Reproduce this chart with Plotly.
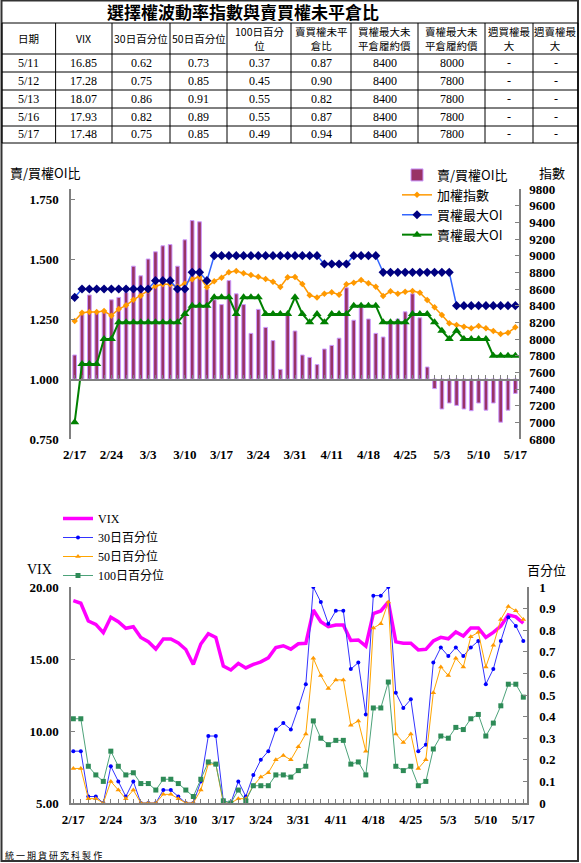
import plotly.graph_objects as go

# ---------------- data ----------------
dates = ["2/17", "2/18", "2/19", "2/22", "2/23", "2/24", "2/25", "2/26", "3/1", "3/2",
         "3/3", "3/4", "3/7", "3/8", "3/9", "3/10", "3/11", "3/14", "3/15", "3/16",
         "3/17", "3/18", "3/21", "3/22", "3/23", "3/24", "3/25", "3/28", "3/29", "3/30",
         "3/31", "4/1", "4/6", "4/7", "4/8", "4/11", "4/12", "4/13", "4/14", "4/15",
         "4/18", "4/19", "4/20", "4/21", "4/22", "4/25", "4/26", "4/27", "4/28", "4/29",
         "5/3", "5/4", "5/5", "5/6", "5/9", "5/10", "5/11", "5/12", "5/13", "5/16", "5/17"]
tick_labels = ["2/17", "2/24", "3/3", "3/10", "3/17", "3/24", "3/31", "4/11", "4/18",
               "4/25", "5/3", "5/10", "5/17"]

pc_ratio = [1.10, 1.27, 1.35, 1.28, 1.28, 1.33, 1.34, 1.36, 1.47, 1.43,
            1.50, 1.53, 1.555, 1.56, 1.47, 1.58, 1.66, 1.655, 1.375, 1.33,
            1.31, 1.41, 1.355, 1.31, 1.19, 1.29, 1.215, 1.16, 1.04, 1.27,
            1.20, 1.10, 1.09, 1.06, 1.125, 1.14, 1.17, 1.38, 1.245, 1.31,
            1.25, 1.19, 1.175, 1.24, 1.25, 1.28, 1.355, 1.255, 1.05, 0.96,
            0.875, 0.90, 0.89, 0.875, 0.868, 0.90, 0.87, 0.90, 0.82, 0.87, 0.94]
taiex = [8216, 8316, 8324, 8324, 8336, 8280, 8360, 8404, 8470, 8520,
         8580, 8636, 8656, 8656, 8628, 8664, 8718, 8748, 8622, 8694,
         8736, 8800, 8816, 8788, 8768, 8748, 8720, 8688, 8624, 8740,
         8745, 8660, 8525, 8498, 8544, 8560, 8532, 8656, 8676, 8708,
         8668, 8628, 8516, 8572, 8544, 8568, 8576, 8556, 8468, 8380,
         8288, 8188, 8168, 8148, 8128, 8156, 8128, 8096, 8060, 8076, 8140]
call_max_oi = [8500, 8600, 8600, 8600, 8600, 8600, 8600, 8600, 8600, 8600,
               8600, 8700, 8700, 8700, 8600, 8600, 8800, 8800, 8700, 9000,
               9000, 9000, 9000, 9000, 9000, 9000, 9000, 9000, 9000, 9000,
               9000, 9000, 9000, 9000, 8900, 8900, 8900, 8900, 9000, 9000,
               9000, 9000, 8800, 8800, 8800, 8800, 8800, 8800, 8800, 8800,
               8800, 8800, 8400, 8400, 8400, 8400, 8400, 8400, 8400, 8400, 8400]
put_max_oi = [7000, 7700, 7700, 7700, 8000, 8000, 8200, 8200, 8200, 8200,
              8200, 8200, 8200, 8200, 8200, 8300, 8400, 8400, 8400, 8500,
              8500, 8500, 8300, 8500, 8500, 8500, 8300, 8300, 8300, 8300,
              8500, 8300, 8200, 8300, 8200, 8300, 8300, 8300, 8400, 8400,
              8400, 8400, 8200, 8200, 8200, 8200, 8300, 8300, 8300, 8200,
              8100, 8000, 8100, 8000, 8000, 8000, 8000, 7800, 7800, 7800, 7800]

vix = [19.05, 18.87, 17.64, 17.40, 16.83, 17.90, 17.59, 17.13, 17.24, 16.50,
       16.20, 15.69, 16.39, 16.39, 16.12, 15.66, 14.62, 16.04, 16.76, 16.50,
       14.51, 14.24, 14.70, 14.38, 14.62, 14.80, 15.08, 15.80, 15.92, 15.68,
       16.06, 16.09, 18.40, 17.59, 17.24, 17.36, 17.36, 16.29, 16.32, 15.90,
       18.16, 18.34, 18.97, 16.19, 16.09, 16.09, 15.63, 15.67, 16.25, 16.50,
       16.40, 16.88, 16.60, 17.16, 17.16, 16.50, 16.85, 17.28, 18.07, 17.93, 17.48]
pct30 = [0.24, 0.24, 0.03, 0.03, 0.00, 0.17, 0.10, 0.03, 0.10, 0.00,
         0.00, 0.00, 0.06, 0.06, 0.03, 0.00, 0.00, 0.10, 0.31, 0.31,
         0.01, 0.00, 0.10, 0.03, 0.13, 0.20, 0.24, 0.34, 0.37, 0.34,
         0.44, 0.55, 1.00, 0.93, 0.83, 0.89, 0.89, 0.62, 0.65, 0.41,
         0.96, 0.96, 1.00, 0.51, 0.44, 0.48, 0.24, 0.27, 0.65, 0.72,
         0.68, 0.72, 0.68, 0.72, 0.75, 0.55, 0.62, 0.75, 0.86, 0.82, 0.75]
pct50 = [0.16, 0.16, 0.02, 0.02, 0.00, 0.10, 0.06, 0.02, 0.06, 0.00,
         0.00, 0.00, 0.04, 0.04, 0.02, 0.00, 0.00, 0.06, 0.18, 0.18,
         0.00, 0.00, 0.02, 0.02, 0.08, 0.12, 0.14, 0.20, 0.22, 0.20,
         0.26, 0.32, 0.67, 0.59, 0.53, 0.57, 0.57, 0.36, 0.38, 0.24,
         0.81, 0.83, 0.93, 0.32, 0.28, 0.32, 0.16, 0.20, 0.51, 0.63,
         0.59, 0.67, 0.63, 0.77, 0.79, 0.63, 0.73, 0.85, 0.91, 0.89, 0.85]
pct100 = [0.39, 0.39, 0.17, 0.13, 0.10, 0.24, 0.17, 0.13, 0.14, 0.09,
          0.09, 0.06, 0.11, 0.11, 0.09, 0.06, 0.03, 0.11, 0.19, 0.18,
          0.01, 0.00, 0.06, 0.01, 0.08, 0.08, 0.08, 0.13, 0.13, 0.12,
          0.15, 0.17, 0.38, 0.30, 0.27, 0.29, 0.29, 0.18, 0.19, 0.13,
          0.44, 0.44, 0.56, 0.17, 0.15, 0.17, 0.08, 0.10, 0.25, 0.31,
          0.30, 0.35, 0.34, 0.39, 0.41, 0.31, 0.37, 0.45, 0.55, 0.55, 0.49]

# table
tbl_title = "選擇權波動率指數與賣買權未平倉比"
tbl_header = ["日期", "VIX", "30日百分位", "50日百分位", "100日百分<br>位", "賣買權未平<br>倉比",
              "買權最大未<br>平倉履約價", "賣權最大未<br>平倉履約價", "週買權最<br>大", "週賣權最<br>大"]
tbl_date = ["5/11", "5/12", "5/13", "5/16", "5/17"]
tbl_vix = ["16.85", "17.28", "18.07", "17.93", "17.48"]
tbl_p30 = ["0.62", "0.75", "0.86", "0.82", "0.75"]
tbl_p50 = ["0.73", "0.85", "0.91", "0.89", "0.85"]
tbl_p100 = ["0.37", "0.45", "0.55", "0.55", "0.49"]
tbl_pc = ["0.87", "0.90", "0.82", "0.87", "0.94"]
tbl_callmax = ["8400", "8400", "8400", "8400", "8400"]
tbl_putmax = ["8000", "7800", "7800", "7800", "7800"]
tbl_wcall = ["-", "-", "-", "-", "-"]
tbl_wput = ["-", "-", "-", "-", "-"]
tbl_columns = [tbl_date, tbl_vix, tbl_p30, tbl_p50, tbl_p100, tbl_pc,
               tbl_callmax, tbl_putmax, tbl_wcall, tbl_wput]

# ---------------- layout geometry (pixels) ----------------
W, H = 581, 863
SERIF = "Liberation Serif, Noto Sans CJK TC"
CJK = "Noto Sans CJK TC, Liberation Serif"
AX = "#808080"

col_edges = [2, 55.6, 112, 170, 227, 291, 351, 418, 485, 533, 578]
row_edges = [23, 54, 72, 90, 108, 126, 143]


def px(v):
    return v / W


def py(v):
    return 1 - v / H


fig = go.Figure()

# ----- top chart -----
fig.add_trace(go.Bar(
    x=dates, y=[r - 1 for r in pc_ratio], base=1, name="賣/買權OI比",
    marker=dict(color="#993366", line=dict(color="#CC99FF", width=1)),
    width=0.5, xaxis="x", yaxis="y", legend="legend",
))
fig.add_trace(go.Scatter(
    x=dates, y=taiex, name="加權指數", mode="lines+markers",
    line=dict(color="#FF9900", width=1.5),
    marker=dict(symbol="diamond", size=5, color="#FF9900"),
    xaxis="x", yaxis="y2", legend="legend",
))
fig.add_trace(go.Scatter(
    x=dates, y=call_max_oi, name="買權最大OI", mode="lines+markers",
    line=dict(color="#3366FF", width=1.5),
    marker=dict(symbol="diamond", size=7, color="#000080"),
    xaxis="x", yaxis="y2", legend="legend",
))
fig.add_trace(go.Scatter(
    x=dates, y=put_max_oi, name="賣權最大OI", mode="lines+markers",
    line=dict(color="#008000", width=2),
    marker=dict(symbol="triangle-up", size=8, color="#008000"),
    xaxis="x", yaxis="y2", legend="legend",
))
# invisible helper trace for the baseline axis drawn at ratio 1.0
fig.add_trace(go.Scatter(
    x=dates, y=pc_ratio, mode="markers", marker=dict(opacity=0),
    showlegend=False, hoverinfo="skip", xaxis="x3", yaxis="y",
))

# ----- bottom chart -----
fig.add_trace(go.Scatter(
    x=dates, y=vix, name="VIX", mode="lines",
    line=dict(color="#FF00FF", width=3.5),
    xaxis="x2", yaxis="y3", legend="legend2",
))
fig.add_trace(go.Scatter(
    x=dates, y=pct30, name="30日百分位", mode="lines+markers",
    line=dict(color="#3333FF", width=1),
    marker=dict(symbol="circle", size=4, color="#0000FF"),
    xaxis="x2", yaxis="y4", legend="legend2",
))
fig.add_trace(go.Scatter(
    x=dates, y=pct50, name="50日百分位", mode="lines+markers",
    line=dict(color="#FFA500", width=1),
    marker=dict(symbol="triangle-up", size=5, color="#FF9900"),
    xaxis="x2", yaxis="y4", legend="legend2",
))
fig.add_trace(go.Scatter(
    x=dates, y=pct100, name="100日百分位", mode="lines+markers",
    line=dict(color="#4DA37A", width=1),
    marker=dict(symbol="square", size=5, color="#2E8B57"),
    xaxis="x2", yaxis="y4", legend="legend2",
))

tickfont = dict(family=SERIF, size=13, color="black", weight="bold")
top_text = [d if d in tick_labels else "" for d in dates]

top_dom_x = [px(71), px(519)]
top_dom_y = [py(439), py(189)]
bot_dom_x = [px(71), px(527)]
bot_dom_y = [py(803), py(587)]

common = dict(showgrid=False, zeroline=False, automargin=False)

# ----- table built from the data lists -----
shapes = [
    dict(type="rect", xref="paper", yref="paper", x0=px(1.5), x1=px(578),
         y0=py(861), y1=py(0.5), line=dict(color="#333333", width=2)),
]
for yv in row_edges:
    shapes.append(dict(type="line", xref="paper", yref="paper", x0=px(col_edges[0]),
                       x1=px(col_edges[-1]), y0=py(yv), y1=py(yv),
                       line=dict(color="black", width=1)))
for xv in col_edges:
    shapes.append(dict(type="line", xref="paper", yref="paper", x0=px(xv), x1=px(xv),
                       y0=py(row_edges[0]), y1=py(row_edges[-1]),
                       line=dict(color="black", width=1)))


def note(text, x, y, size, family=CJK, xanchor="center"):
    return dict(text=text, x=px(x), y=py(y), xref="paper", yref="paper",
                xanchor=xanchor, yanchor="middle", showarrow=False,
                font=dict(family=family, size=size, color="black"))


annotations = [note("<b>" + tbl_title + "</b>", 243, 12, 17)]
for j, head in enumerate(tbl_header):
    xc = (col_edges[j] + col_edges[j + 1]) / 2
    annotations.append(note(head, xc, (row_edges[0] + row_edges[1]) / 2, 10.5))
    for i, val in enumerate(tbl_columns[j]):
        annotations.append(note(val, xc, (row_edges[i + 1] + row_edges[i + 2]) / 2, 12,
                                family=SERIF))

annotations += [
    note("賣/買權OI比", 8, 172, 13, xanchor="left"),
    note("指數", 552, 172, 13),
    note("VIX", 39, 569, 14, family=SERIF),
    note("百分位", 546, 569, 13),
    note("統 一 期 貨 研 究 科 製 作", 3, 855, 9, xanchor="left"),
]

fig.update_layout(
    template="none",
    width=W, height=H, margin=dict(l=0, r=0, t=0, b=0, pad=0), autosize=False,
    paper_bgcolor="white", plot_bgcolor="rgba(0,0,0,0)",
    showlegend=True,
    xaxis=dict(domain=top_dom_x, anchor="y", type="category", range=[-0.5, 60.5],
               tickmode="array", tickvals=dates, ticktext=top_text, ticks="",
               showline=False, tickfont=tickfont, ticklabelstandoff=6, **common),
    xaxis3=dict(overlaying="x", matches="x", anchor="free", position=py(380),
                type="category", tickmode="array", tickvals=dates,
                showticklabels=False, ticks="inside", ticklen=4, tickcolor=AX,
                showline=True, linecolor=AX, linewidth=1.5, **common),
    yaxis=dict(domain=top_dom_y, anchor="x", range=[0.75, 0.75 + 250 / 240],
               tickvals=[0.75, 1.0, 1.25, 1.5, 1.75], tickformat=".3f",
               ticks="inside", ticklen=4, tickcolor=AX, showline=True,
               linecolor=AX, linewidth=1.5, tickfont=tickfont, ticklabelstandoff=8, **common),
    yaxis2=dict(overlaying="y", side="right", anchor="x", range=[6800, 9800],
                dtick=200, tick0=6800, tickformat="d", ticks="inside", ticklen=4,
                tickcolor=AX, showline=True, linecolor=AX, linewidth=1.5,
                tickfont=tickfont, ticklabelstandoff=6, **common),
    xaxis2=dict(domain=bot_dom_x, anchor="y3", type="category", range=[-0.31, 60.49],
                tickmode="array", tickvals=dates, ticktext=top_text, ticks="inside",
                ticklen=4, tickcolor=AX, showline=True, linecolor=AX, linewidth=1.5,
                tickfont=tickfont, ticklabelstandoff=4, **common),
    yaxis3=dict(domain=bot_dom_y, anchor="x2", range=[5, 20], dtick=5, tick0=5,
                tickformat=".2f", ticks="inside", ticklen=4, tickcolor=AX,
                showline=True, linecolor=AX, linewidth=1.5,
                tickfont=tickfont, ticklabelstandoff=8, **common),
    yaxis4=dict(overlaying="y3", side="right", anchor="x2", range=[0, 1],
                dtick=0.1, tick0=0, ticks="inside", ticklen=4, tickcolor=AX,
                showline=True, linecolor=AX, linewidth=1.5,
                tickfont=tickfont, ticklabelstandoff=8, **common),
    legend=dict(x=px(397), y=py(160), xanchor="left", yanchor="top",
                bgcolor="rgba(0,0,0,0)", font=dict(family=CJK, size=13, color="black"),
                traceorder="normal", itemwidth=30),
    legend2=dict(x=px(58), y=py(504), xanchor="left", yanchor="top",
                 bgcolor="rgba(0,0,0,0)", font=dict(family=SERIF, size=12, color="black"),
                 traceorder="normal", itemwidth=30),
    shapes=shapes,
    annotations=annotations,
)

fig.write_html("out.html",
               config={"displayModeBar": False},
               post_script="document.body.style.margin='0';"
                           "document.documentElement.style.overflow='hidden';")
